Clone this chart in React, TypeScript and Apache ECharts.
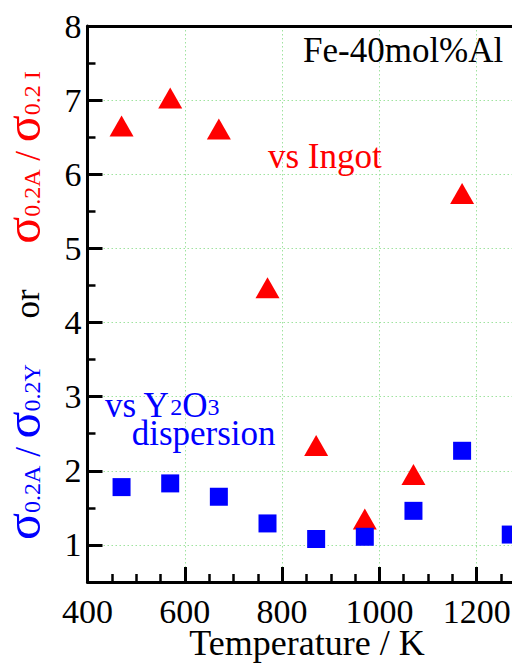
import React, { useEffect, useRef } from "react";
import * as echarts from "echarts";

const temperatures = [470, 570, 670, 770, 870, 970, 1070, 1170, 1270];
const ingotRatio: (number | null)[] = [6.65, 7.03, 6.61, 4.47, 2.34, 1.35, 1.95, 5.74, null];
const y2o3Ratio: (number | null)[] = [1.78, 1.83, 1.65, 1.29, 1.08, 1.11, 1.46, 2.27, 1.14];

const xMin = 400;
const xMax = 1400;
const xInterval = 200;
const yMin = 0.5;
const yMax = 8;

const RED = "#ff0000";
const BLUE = "#0000ff";
const GRID_GREEN = "#9fe39f";
const FONT = "Liberation Serif, Times New Roman, serif";

const CHART_W = 620;
const CHART_H = 666;

const toPairs = (vals: (number | null)[]) =>
  temperatures
    .map((t, i) => (vals[i] == null ? null : [t, vals[i] as number]))
    .filter((p) => p !== null) as number[][];

const sigmaRich = (color: string) => ({
  s: { fontSize: 50, fontFamily: FONT, fill: color, verticalAlign: "bottom" },
  sub: { fontSize: 24, fontFamily: FONT, fill: color, verticalAlign: "bottom", padding: [0, 0, 4, 0] },
  n: { fontSize: 35, fontFamily: FONT, fill: color, verticalAlign: "bottom", padding: [0, 0, 2, 0] },
});

export default function App() {
  const ref = useRef<HTMLDivElement>(null);
  useEffect(() => {
    if (!ref.current) return;
    const chart = echarts.init(ref.current, null, { renderer: "svg" });
    const axisLabelStyle = { color: "#000", fontSize: 34, fontFamily: FONT };
    const gridLine = { show: true, lineStyle: { color: GRID_GREEN, type: [1.5, 2.5], width: 1 } };
    chart.setOption({
      animation: false,
      backgroundColor: "#fff",
      textStyle: { fontFamily: FONT },
      grid: { left: 87.5, top: 26, bottom: 84, right: CHART_W - 574 },
      xAxis: [
        {
          type: "value",
          min: xMin,
          max: xMax,
          interval: xInterval,
          axisLine: { show: true, onZero: false, lineStyle: { color: "#000", width: 3 } },
          axisTick: { show: true, inside: true, length: 15, lineStyle: { color: "#000", width: 3 } },
          minorTick: { show: true, splitNumber: 4, length: 8, lineStyle: { color: "#000", width: 2.5 } },
          axisLabel: {
            ...axisLabelStyle,
            margin: 12,
            formatter: (v: number) => (v % 200 === 0 && v < 1400 ? String(v) : ""),
          },
          splitLine: gridLine,
        },
        {
          type: "value",
          position: "top",
          min: xMin,
          max: xMax,
          interval: xInterval,
          axisLine: { show: true, onZero: false, lineStyle: { color: "#000", width: 3 } },
          axisTick: { show: false },
          axisLabel: { show: false },
          splitLine: { show: false },
        },
      ],
      yAxis: {
        type: "value",
        min: yMin,
        max: yMax,
        minInterval: 1,
        maxInterval: 1,
        axisLine: { show: true, onZero: false, lineStyle: { color: "#000", width: 3 } },
        axisTick: { show: true, inside: true, length: 15, lineStyle: { color: "#000", width: 3 } },
        minorTick: { show: true, splitNumber: 2, length: 8, lineStyle: { color: "#000", width: 2.5 } },
        axisLabel: {
          ...axisLabelStyle,
          margin: 6,
          formatter: (v: number) => (Math.abs(v - Math.round(v)) < 1e-9 ? String(Math.round(v)) : ""),
        },
        splitLine: gridLine,
      },
      series: [
        {
          type: "scatter",
          name: "vs Ingot",
          symbol: "triangle",
          symbolSize: [24, 21],
          itemStyle: { color: RED, opacity: 1 },
          data: toPairs(ingotRatio),
          z: 3,
        },
        {
          type: "scatter",
          name: "vs Y2O3 dispersion",
          symbol: "rect",
          symbolSize: 18,
          itemStyle: { color: BLUE, opacity: 1 },
          data: toPairs(y2o3Ratio),
          z: 4,
        },
      ],
      graphic: [
        {
          type: "text",
          x: 303,
          y: 50,
          style: { text: "Fe-40mol%Al", fontSize: 35, fontFamily: FONT, fill: "#000", align: "left", verticalAlign: "middle" },
          z: 10,
        },
        {
          type: "text",
          x: 268,
          y: 156,
          style: { text: "vs Ingot", fontSize: 35, fontFamily: FONT, fill: RED, align: "left", verticalAlign: "middle" },
          z: 10,
        },
        {
          type: "text",
          x: 105,
          y: 405,
          style: {
            text: "{a|vs Y}{b|2}{a|O}{b|3}",
            align: "left",
            verticalAlign: "middle",
            rich: {
              a: { fontSize: 35, fontFamily: FONT, fill: BLUE, verticalAlign: "bottom" },
              b: { fontSize: 24, fontFamily: FONT, fill: BLUE, verticalAlign: "bottom", padding: [0, 0, 4, 0] },
            },
          },
          z: 10,
        },
        {
          type: "text",
          x: 131.7,
          y: 433,
          style: { text: "dispersion", fontSize: 35, fontFamily: FONT, fill: BLUE, align: "left", verticalAlign: "middle" },
          z: 10,
        },
        {
          type: "text",
          x: 307,
          y: 643,
          style: { text: "Temperature / K", fontSize: 36, fontFamily: FONT, fill: "#000", align: "center", verticalAlign: "middle" },
          z: 10,
        },
        {
          type: "text",
          x: 22.5,
          y: 157.5,
          rotation: Math.PI / 2,
          style: {
            text: "{s|σ}{sub|0.2A}{n| / }{s|σ}{sub|0.2 I}",
            align: "center",
            verticalAlign: "middle",
            rich: sigmaRich(RED),
          },
          z: 10,
        },
        {
          type: "text",
          x: 27,
          y: 304,
          rotation: Math.PI / 2,
          style: { text: "or", fontSize: 35, fontFamily: FONT, fill: "#000", align: "center", verticalAlign: "middle" },
          z: 10,
        },
        {
          type: "text",
          x: 22.5,
          y: 452,
          rotation: Math.PI / 2,
          style: {
            text: "{s|σ}{sub|0.2A}{n| / }{s|σ}{sub|0.2Y}",
            align: "center",
            verticalAlign: "middle",
            rich: sigmaRich(BLUE),
          },
          z: 10,
        },
      ],
    });
    return () => chart.dispose();
  }, []);
  return (
    <div
      style={{ position: "fixed", left: 0, top: 0, width: 512, height: 666, overflow: "hidden", background: "#fff" }}
    >
      <div ref={ref} style={{ width: CHART_W, height: CHART_H }} />
    </div>
  );
}
